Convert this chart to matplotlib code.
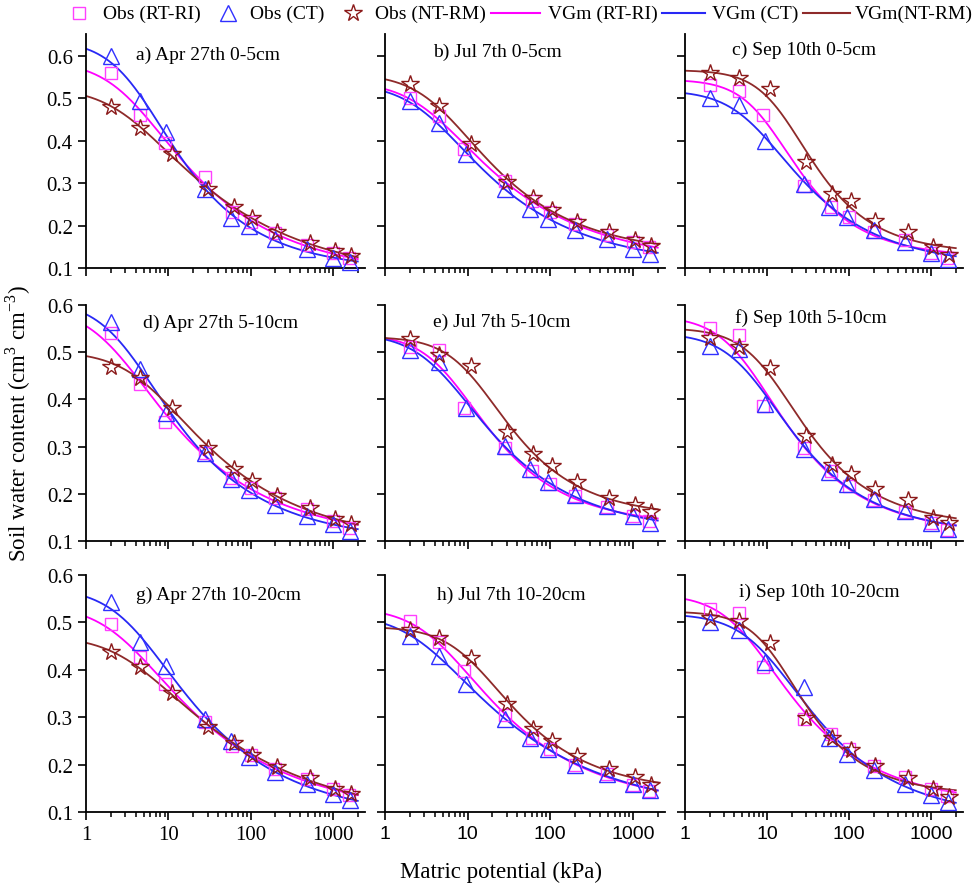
import numpy as np
import matplotlib
matplotlib.use("Agg")
import matplotlib.pyplot as plt
from matplotlib.lines import Line2D
from matplotlib.ticker import FixedLocator, NullFormatter, FixedFormatter

plt.rcParams['font.family'] = ['Liberation Serif', 'DejaVu Serif']
plt.rcParams['mathtext.fontset'] = 'custom'
plt.rcParams['mathtext.rm'] = 'Liberation Serif'

# ---------------- data ----------------
# matric potential of the measurement steps (kPa), per tillage treatment
psi_rt = [2, 4.5, 9, 28, 60, 100, 200, 480, 1000, 1550]
psi_ct = [2, 4.5, 9.5, 28, 57, 95, 200, 480, 1000, 1600]
psi_nt = [2, 4.5, 11, 30, 62, 105, 210, 520, 1050, 1650]

panel_titles = ["a) Apr 27th 0-5cm", "b) Jul 7th 0-5cm", "c) Sep 10th 0-5cm",
                "d) Apr 27th 5-10cm", "e) Jul 7th 5-10cm", "f) Sep 10th 5-10cm",
                "g) Apr 27th 10-20cm", "h) Jul 7th 10-20cm", "i) Sep 10th 10-20cm"]

# observed soil water content (cm3 cm-3), one list per panel
obs_rt = [
    [0.561, 0.461, 0.396, 0.314, 0.232, 0.208, 0.182, 0.155, 0.135, 0.124],
    [0.502, 0.459, 0.381, 0.306, 0.259, 0.232, 0.204, 0.177, 0.161, 0.149],
    [0.531, 0.518, 0.461, 0.294, 0.243, 0.220, 0.186, 0.165, 0.136, 0.124],
    [0.541, 0.432, 0.352, 0.287, 0.234, 0.213, 0.192, 0.167, 0.142, 0.128],
    [0.512, 0.505, 0.382, 0.296, 0.248, 0.220, 0.195, 0.171, 0.153, 0.142],
    [0.552, 0.536, 0.385, 0.296, 0.248, 0.217, 0.187, 0.161, 0.139, 0.123],
    [0.497, 0.427, 0.369, 0.290, 0.240, 0.221, 0.191, 0.170, 0.148, 0.135],
    [0.502, 0.458, 0.398, 0.304, 0.256, 0.233, 0.200, 0.181, 0.158, 0.144],
    [0.528, 0.520, 0.405, 0.297, 0.265, 0.232, 0.198, 0.174, 0.148, 0.134],
]
obs_ct = [
    [0.600, 0.494, 0.420, 0.287, 0.218, 0.200, 0.168, 0.146, 0.123, 0.113],
    [0.494, 0.442, 0.369, 0.287, 0.240, 0.216, 0.189, 0.169, 0.145, 0.134],
    [0.502, 0.484, 0.400, 0.298, 0.243, 0.220, 0.189, 0.161, 0.136, 0.122],
    [0.563, 0.464, 0.372, 0.287, 0.231, 0.209, 0.176, 0.153, 0.135, 0.121],
    [0.504, 0.479, 0.382, 0.301, 0.252, 0.225, 0.197, 0.174, 0.153, 0.139],
    [0.513, 0.507, 0.390, 0.294, 0.246, 0.220, 0.190, 0.164, 0.139, 0.126],
    [0.544, 0.458, 0.408, 0.297, 0.249, 0.216, 0.184, 0.160, 0.137, 0.125],
    [0.472, 0.430, 0.370, 0.297, 0.256, 0.232, 0.200, 0.181, 0.160, 0.146],
    [0.500, 0.483, 0.417, 0.363, 0.256, 0.223, 0.188, 0.160, 0.135, 0.122],
]
obs_nt = [
    [0.479, 0.430, 0.370, 0.287, 0.243, 0.217, 0.185, 0.160, 0.139, 0.128],
    [0.533, 0.482, 0.392, 0.304, 0.265, 0.236, 0.208, 0.185, 0.165, 0.153],
    [0.561, 0.549, 0.522, 0.351, 0.275, 0.259, 0.212, 0.186, 0.149, 0.130],
    [0.469, 0.446, 0.382, 0.298, 0.252, 0.227, 0.195, 0.169, 0.146, 0.135],
    [0.527, 0.495, 0.471, 0.331, 0.284, 0.259, 0.225, 0.192, 0.176, 0.161],
    [0.531, 0.512, 0.467, 0.322, 0.262, 0.241, 0.211, 0.187, 0.149, 0.139],
    [0.438, 0.405, 0.351, 0.279, 0.246, 0.221, 0.195, 0.172, 0.148, 0.137],
    [0.483, 0.467, 0.424, 0.328, 0.276, 0.250, 0.218, 0.191, 0.174, 0.156],
    [0.509, 0.502, 0.457, 0.298, 0.256, 0.230, 0.197, 0.172, 0.148, 0.132],
]

# VGm model value at 1 kPa (near-saturated end of each fitted curve), per panel
vg1_rt = [0.565, 0.522, 0.541, 0.555, 0.529, 0.565, 0.512, 0.518, 0.549]
vg1_ct = [0.617, 0.516, 0.512, 0.580, 0.527, 0.532, 0.554, 0.497, 0.514]
vg1_nt = [0.506, 0.545, 0.565, 0.492, 0.530, 0.548, 0.457, 0.488, 0.521]

legend_labels = ['Obs (RT-RI)', 'Obs (CT)', 'Obs (NT-RM)',
                 'VGm (RT-RI)', 'VGm (CT)', 'VGm(NT-RM)']

# ---------------- styles ----------------
c_rt_obs, c_rt_fit = '#FF40FF', '#FF00FF'
c_ct_obs, c_ct_fit = '#3030FF', '#2828F5'
c_nt_obs, c_nt_fit = '#8B1A1A', '#8E2A2A'
mk_rt = dict(marker='s', ms=9, mfc='none', mec=c_rt_obs, mew=1.0)
mk_ct = dict(marker='^', ms=11, mfc='none', mec=c_ct_obs, mew=1.0)
mk_nt = dict(marker='*', ms=13, mfc='none', mec=c_nt_obs, mew=1.0)


def fit_vg(psi, theta, theta1, w1=25.0):
    """Weighted least-squares van Genuchten-Mualem fit (m = 1 - 1/n),
    tied to the model value at 1 kPa."""
    psi = np.append(np.asarray(psi, float), 1.0)
    theta = np.append(np.asarray(theta, float), theta1)
    w = np.ones_like(psi)
    w[-1] = w1
    alphas = np.logspace(-3, 1, 241)
    ns = np.linspace(1.05, 4.0, 237)
    A, N = np.meshgrid(alphas, ns, indexing='ij')
    M = 1 - 1 / N
    S = (1 + (A[..., None] * psi) ** N[..., None]) ** (-M[..., None])
    u, v = 1 - S, S
    uu, uv, vv = (w * u * u).sum(-1), (w * u * v).sum(-1), (w * v * v).sum(-1)
    uy, vy = (w * u * theta).sum(-1), (w * v * theta).sum(-1)
    det = uu * vv - uv ** 2
    tr = (vv * uy - uv * vy) / det
    ts = (uu * vy - uv * uy) / det
    sse = (w * (tr[..., None] * u + ts[..., None] * v - theta) ** 2).sum(-1)
    sse[(tr < -0.1) | (ts > 0.9) | ~np.isfinite(sse)] = np.inf
    i = np.unravel_index(np.argmin(sse), sse.shape)
    return tr[i], ts[i], A[i], N[i]


def vg(h, tr, ts, a, n):
    return tr + (ts - tr) / (1 + (a * h) ** n) ** (1 - 1 / n)


W, H = 980, 887
fig = plt.figure(figsize=(9.8, 8.87), dpi=100)

col_lr = [(86, 365), (385, 665), (685, 963)]
row_tb = [(35, 269), (306, 542), (576, 813)]
row_ylim = [(0.1, 0.652), (0.1, 0.6), (0.1, 0.6)]
title_pos = [(0.18, 0.915), (0.17, 0.927), (0.17, 0.935),
             (0.204, 0.928), (0.17, 0.932), (0.18, 0.95),
             (0.18, 0.92), (0.186, 0.917), (0.195, 0.93)]

h_curve = np.logspace(0, np.log10(2000), 300)
xmax = 2450
major = [1, 10, 100, 1000]
minor = [k * 10 ** e for e in range(0, 4) for k in range(2, 10)]
minor = [m for m in minor if m <= 2000]

for k in range(9):
    r, c = divmod(k, 3)
    l, rr = col_lr[c]
    t, b = row_tb[r]
    ax = fig.add_axes([l / W, (H - b) / H, (rr - l) / W, (b - t) / H])
    ax.set_xscale('log')
    ax.set_xlim(1, xmax)
    ax.set_ylim(*row_ylim[r])
    for side in ('top', 'right'):
        ax.spines[side].set_visible(False)
    for side in ('left', 'bottom'):
        ax.spines[side].set_linewidth(1.3)
    ax.xaxis.set_major_locator(FixedLocator(major))
    ax.xaxis.set_minor_locator(FixedLocator(minor))
    ax.xaxis.set_minor_formatter(NullFormatter())
    ax.yaxis.set_major_locator(FixedLocator([0.1, 0.2, 0.3, 0.4, 0.5, 0.6]))
    ax.tick_params(which='major', direction='out', length=6, width=1.2, labelsize=15)
    ax.tick_params(which='minor', direction='out', length=3.5, width=1.1)
    if c == 0:
        ax.yaxis.set_major_formatter(FixedFormatter(['0.1', '0.2', '0.3', '0.4', '0.5', '0.6']))
    else:
        ax.tick_params(axis='y', labelleft=False)
    if r == 2:
        ax.xaxis.set_major_formatter(FixedFormatter(['1', '10', '100', '1000']))
        if c > 0:
            for lab in ax.get_xticklabels():
                lab.set_fontfamily('Liberation Sans')
                lab.set_fontsize(14)
    else:
        ax.tick_params(axis='x', labelbottom=False)

    series = [(psi_rt, obs_rt[k], vg1_rt[k], mk_rt, c_rt_fit),
              (psi_ct, obs_ct[k], vg1_ct[k], mk_ct, c_ct_fit),
              (psi_nt, obs_nt[k], vg1_nt[k], mk_nt, c_nt_fit)]
    # fitted curves
    for psi, th, th1, mk, cf in series:
        p = fit_vg(psi, th, th1)
        ax.plot(h_curve, vg(h_curve, *p), color=cf, lw=1.3, zorder=2)
    # observations
    for psi, th, th1, mk, cf in series:
        ax.plot(psi, th, linestyle='none', zorder=3, clip_on=False, **mk)

    tx, ty = title_pos[k]
    ax.text(tx, ty, panel_titles[k], transform=ax.transAxes, fontsize=14,
            ha='left', va='center')

fig.text(18 / W, 1 - 424 / H, 'Soil water content (cm$^3$ cm$^{-3}$)',
         rotation=90, ha='center', va='center', fontsize=16.5)
fig.text(501 / W, 1 - 872 / H, 'Matric potential (kPa)', ha='center',
         va='center', fontsize=16.5)

# legend row across the top of the figure
ly = 1 - 14 / H
for px, mk in [(79, mk_rt), (228, mk_ct), (353, mk_nt)]:
    fig.add_artist(Line2D([px / W], [ly], transform=fig.transFigure,
                          ls='none', **mk))
for (x0, x1), cf in zip([(491, 540), (662, 705), (803, 850)],
                        [c_rt_fit, c_ct_fit, c_nt_fit]):
    fig.add_artist(Line2D([x0 / W, x1 / W], [ly, ly], transform=fig.transFigure,
                          color=cf, lw=1.5))
for px, s in zip([103, 250, 375, 548, 712, 855], legend_labels):
    fig.text(px / W, ly, s, ha='left', va='center', fontsize=14)

fig.savefig('out.png', dpi=100)
